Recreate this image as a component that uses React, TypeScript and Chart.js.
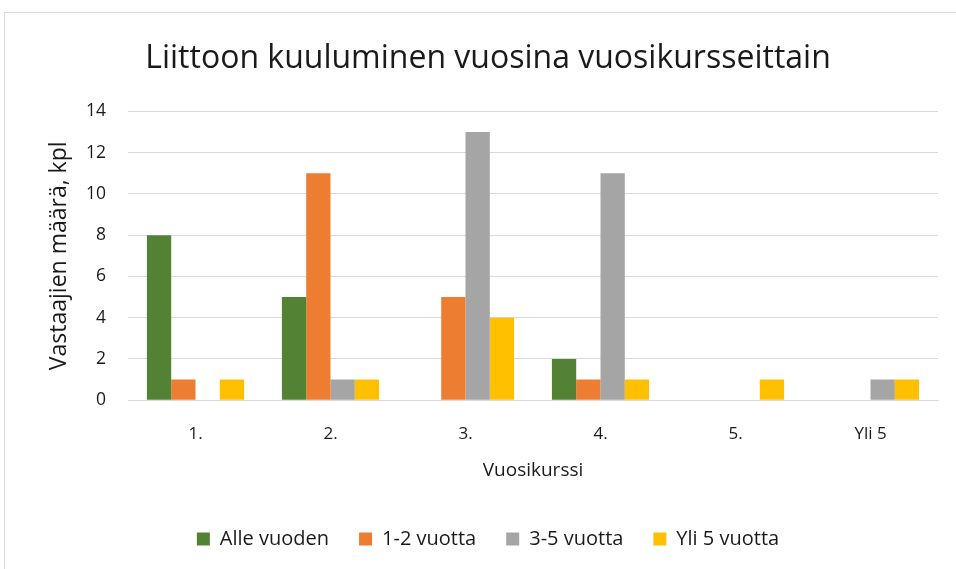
import React, { useEffect, useRef } from "react";
import { Chart, registerables } from "chart.js";

Chart.register(...registerables);

const categories = ["1.", "2.", "3.", "4.", "5.", "Yli 5"];
const seriesNames = ["Alle vuoden", "1-2 vuotta", "3-5 vuotta", "Yli 5 vuotta"];
const alleVuoden = [8, 5, 0, 2, 0, 0];
const vuotta1to2 = [1, 11, 5, 1, 0, 0];
const vuotta3to5 = [0, 1, 13, 11, 0, 1];
const yli5Vuotta = [1, 1, 4, 1, 1, 1];
const seriesColors = ["#548235", "#ED7D31", "#A5A5A5", "#FFC000"];
const yMin = 0;
const yMax = 14;
const yStep = 2;

const FONT = "'Open Sans', sans-serif";

export default function App() {
  const ref = useRef<HTMLCanvasElement | null>(null);

  useEffect(() => {
    if (!ref.current) return;
    const values = [alleVuoden, vuotta1to2, vuotta3to5, yli5Vuotta];
    const chart = new Chart(ref.current, {
      type: "bar",
      data: {
        labels: categories,
        datasets: seriesNames.map((name, i) => ({
          label: name,
          data: values[i],
          backgroundColor: seriesColors[i],
          borderWidth: 0,
          barPercentage: 1,
          categoryPercentage: 0.72,
        })),
      },
      options: {
        responsive: false,
        animation: false,
        layout: { padding: { left: 38, right: 18, top: 0, bottom: 10 } },
        plugins: {
          tooltip: { enabled: false },
          title: {
            display: true,
            text: "Liittoon kuuluminen vuosina vuosikursseittain",
            color: "#1a1a1a",
            font: { family: FONT, size: 32, weight: "normal" },
            padding: { top: 40, bottom: 33 },
          },
          legend: {
            position: "bottom",
            labels: {
              boxWidth: 13,
              boxHeight: 13,
              padding: 30,
              color: "#1a1a1a",
              font: { family: FONT, size: 20 },
            },
          },
        },
        scales: {
          x: {
            grid: { display: false, drawTicks: false },
            border: { display: true, color: "#d9d9d9" },
            ticks: { color: "#1a1a1a", padding: 24, font: { family: FONT, size: 17 } },
            title: {
              display: true,
              text: "Vuosikurssi",
              color: "#1a1a1a",
              font: { family: FONT, size: 19 },
              padding: { top: -9, bottom: 16.6 },
            },
          },
          y: {
            min: yMin,
            max: yMax,
            grid: { color: "#d9d9d9", drawTicks: false },
            border: { display: false },
            ticks: { stepSize: yStep, color: "#1a1a1a", padding: 22, font: { family: FONT, size: 17.5 } },
            title: {
              display: true,
              text: "Vastaajien määrä, kpl",
              color: "#1a1a1a",
              font: { family: FONT, size: 23 },
              padding: { top: 8, bottom: 0 },
            },
            afterFit: (scale: any) => {
              scale.width = 90;
            },
          },
        },
      },
    });
    return () => chart.destroy();
  }, []);

  return (
    <div style={{ position: "fixed", left: 0, top: 0, width: 956, height: 569, overflow: "hidden", background: "#fff" }}>
      <div
        style={{
          position: "absolute",
          left: 4,
          top: 12,
          width: 1100,
          height: 700,
          border: "1px solid #d9d9d9",
          boxSizing: "border-box",
        }}
      />
      <canvas ref={ref} width={956} height={569} style={{ position: "absolute", left: 0, top: 0 }} />
    </div>
  );
}
